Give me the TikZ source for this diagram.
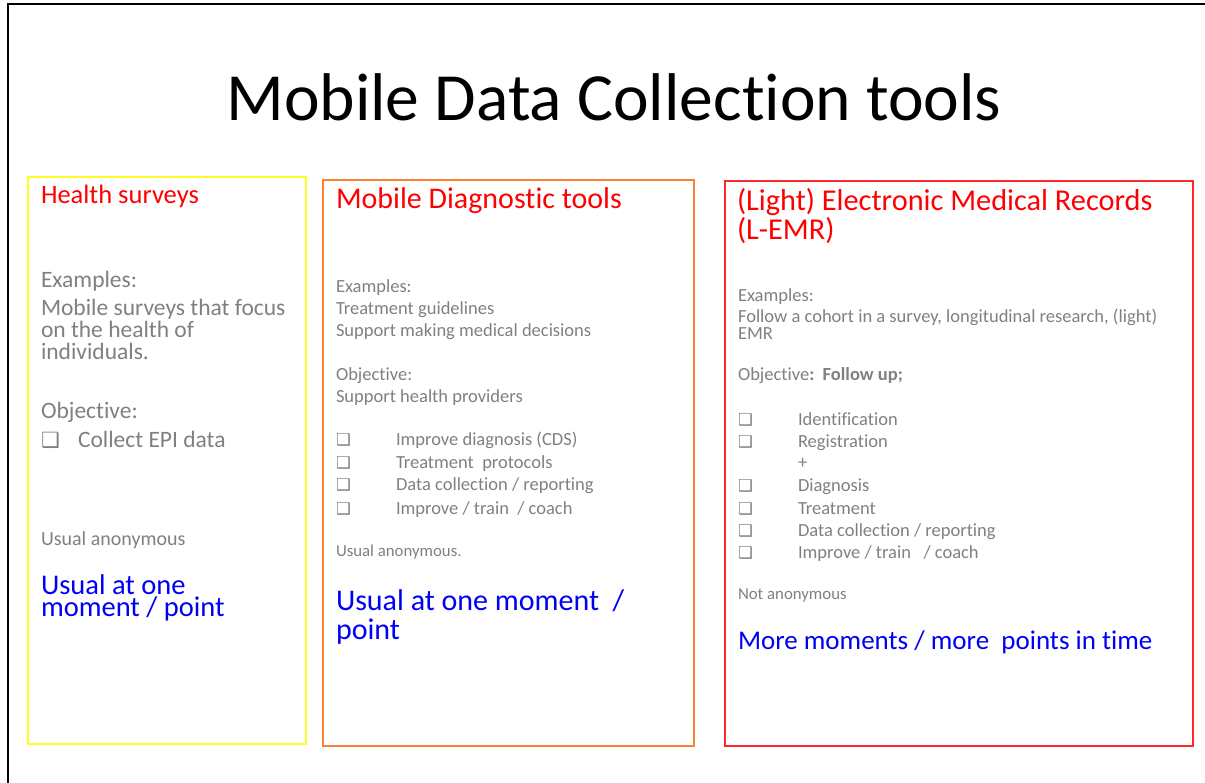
\documentclass[tikz,border=0pt]{standalone}
\usepackage{fontspec}
\setmainfont[Ligatures={NoCommon}]{Carlito}
\newfontfamily\symfont{DejaVu Sans}
\definecolor{greytxt}{RGB}{128,128,128}
\definecolor{redtxt}{RGB}{255,0,0}
\definecolor{bluetxt}{RGB}{0,0,245}
\definecolor{yellowline}{RGB}{255,255,40}
\definecolor{orangeline}{RGB}{255,128,50}
\definecolor{redline}{RGB}{255,40,40}
\newcommand{\fsz}[1]{\fontsize{#1}{#1}\selectfont}
\newcommand{\cbox}{{\symfont\char"2751}}
\begin{document}
\begin{tikzpicture}[x=1pt,y=-1pt,
  txt/.style={anchor=base west, inner sep=0pt, outer sep=0pt},
  head/.style={txt, text=redtxt},
  grey/.style={txt, text=greytxt},
  blue/.style={txt, text=bluetxt},
  panel/.style={line width=1.4pt}]
\useasboundingbox (0,0) rectangle (1205,783);
\begin{scope}
\clip (0,0) rectangle (1205,783);
\draw[line width=2pt] (8,4) rectangle (1230,800);
\end{scope}

% title
\node[anchor=base, inner sep=0pt] (title) at (614,121) {\fsz{67.5}Mobile Data Collection tools};

% panels
\draw[panel, yellowline] (28,177) rectangle (306,744);
\draw[panel, orangeline] (323,180) rectangle (694,746);
\draw[panel, redline] (725,181) rectangle (1193,746);

% ---- health surveys
\node[head] (h1) at (41,204) {\fsz{26.5}Health surveys};
\node[grey] (e1) at (41,288) {\fsz{23.5}Examples:};
\node[grey] (e1a) at (41,316) {\fsz{23.5}Mobile surveys that focus};
\node[grey] (e1b) at (41,338) {\fsz{23.5}on the health of};
\node[grey] (e1c) at (41,360) {\fsz{23.5}individuals.};
\node[grey] (o1) at (41,419) {\fsz{23.5}Objective:};
\node[grey] (o1a) at (41,447) {\fsz{21}\cbox};
\node[grey] (o1b) at (78,447) {\fsz{23.5}Collect EPI data};
\node[grey] (a1) at (41,545) {\fsz{20}Usual anonymous};
% two-line block: the base anchor sits on the last line
\node[blue, align=left, font={\fontsize{28.5}{21.5}\selectfont}] (m1) at (41,616) {Usual at one\\moment / point};

% ---- diagnostic tools
\node[head] (h2) at (336,209) {\fsz{30}Mobile Diagnostic tools};
\node[grey] (e2) at (336,293) {\fsz{18.5}Examples:};
\node[grey] (e2a) at (336,315) {\fsz{18.5}Treatment guidelines};
\node[grey] (e2b) at (336,337) {\fsz{18.5}Support making medical decisions};
\node[grey] (o2) at (336,381) {\fsz{18.5}Objective:};
\node[grey] (o2a) at (336,403) {\fsz{18.5}Support health providers};
\foreach \yy/\t [count=\i] in {446/{Improve diagnosis (CDS)},468/{Treatment\ \ protocols},490/{Data collection / reporting},514/{Improve / train\ \ / coach}}{
  \node[grey] (c2\i) at (336,\yy) {\fsz{16.5}\cbox};
  \node[grey] (t2\i) at (396,\yy) {\fsz{18.5}\t};
}
\node[grey] (a2) at (336,556) {\fsz{16.8}Usual anonymous.};
\node[blue] (m2a) at (336,610) {\fsz{30}Usual at one moment\ \ /};
\node[blue] (m2b) at (336,639) {\fsz{30}point};

% ---- light EMR
\node[head] (h3) at (737,211) {\fsz{30.3}(Light) Electronic Medical Records};
\node[head] (h3b) at (737,240) {\fsz{30.3}(L-EMR)};
\node[grey] (e3) at (738,302) {\fsz{18.5}Examples:};
\node[grey] (e3a) at (738,323) {\fsz{18.5}Follow a cohort in a survey, longitudinal research, (light)};
\node[grey] (e3b) at (738,340) {\fsz{18.5}EMR};
\node[grey] (o3) at (738,381) {\fsz{18.5}Objective\textbf{:\ \ Follow up;}};
\foreach \yy/\t [count=\i] in {425/{Identification},447/{Registration},491/{Diagnosis},514/{Treatment},536/{Data collection / reporting},558/{Improve / train\ \ \ / coach}}{
  \node[grey] (c3\i) at (738,\yy) {\fsz{16.5}\cbox};
  \node[grey] (t3\i) at (798,\yy) {\fsz{18.5}\t};
}
\node[grey] (plus3) at (798,468) {\fsz{18.5}+};
\node[grey] (a3) at (738,599) {\fsz{16.8}Not anonymous};
\node[blue] (m3) at (738,649) {\fsz{27}More moments / more\ \ points in time};
\end{tikzpicture}
\end{document}
